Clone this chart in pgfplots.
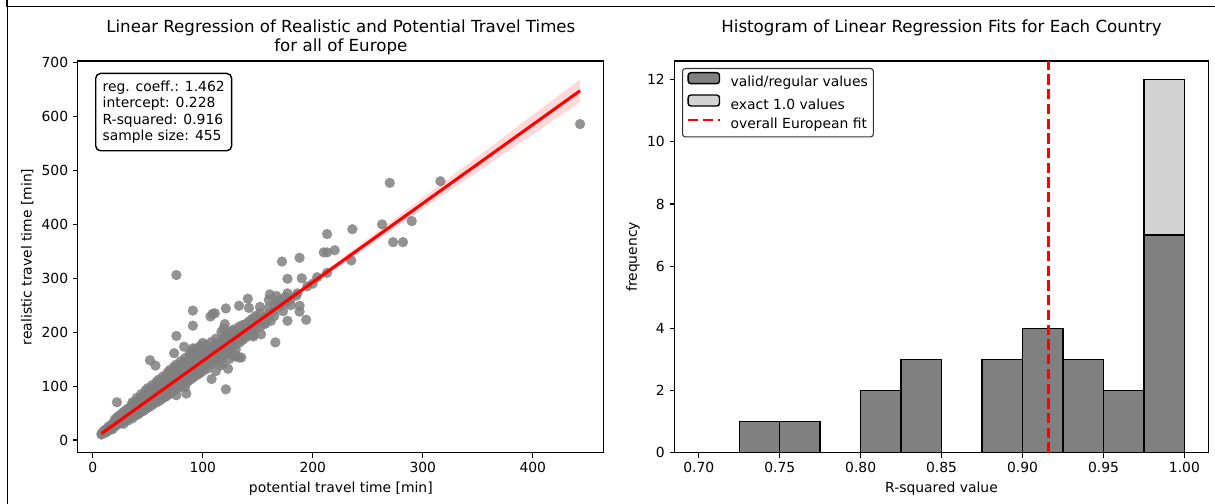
\documentclass[border=0pt]{standalone}
\usepackage{fontspec}
\setmainfont{DejaVu Sans}
\usepackage{pgfplots}
\pgfplotsset{compat=1.18}
\definecolor{scat}{RGB}{128,128,128}
\definecolor{darkbar}{RGB}{128,128,128}
\definecolor{lightbar}{RGB}{211,211,211}
\pgfplotsset{
 barleg/.style={legend image code/.code={\draw[##1] (0bp,-0.3bp) rectangle (22.6bp,7.6bp);}},
 lineleg/.style={legend image code/.code={\draw[##1] (0bp,3.7bp) -- (22.6bp,3.7bp);}},
 mpl/.style={
  scale only axis, height=282bp,
  axis line style={black, line width=0.8bp},
  tick align=outside, tick pos=left,
  major tick length=3.5bp,
  tick style={black, line width=0.8bp},
  ticklabel style={font=\fontsize{10bp}{12bp}\selectfont},
  /pgf/number format/assume math mode=true,
 }}
\begin{document}
\begin{tikzpicture}
\useasboundingbox (0,0) rectangle (874.8bp,362.88bp);
% frame
\draw[black, line width=1.2bp] (5.2bp,362.88bp) -- (5.2bp,358.2bp) -- (874.8bp,358.2bp);
\draw[black, line width=1.2bp] (5.4bp,358.2bp) -- (5.4bp,0bp);
% ---------------- left: scatter with regression ----------------
\begin{axis}[mpl, at={(56.09bp,36.94bp)}, anchor=south west, width=378.6bp,
  clip mode=individual,
  xmin=-13.5, xmax=464.5, ymin=-23.6, ymax=703,
  xtick={0,100,200,300,400}, ytick={0,100,200,300,400,500,600,700}]
\addplot[only marks, mark=*, mark size=3.6bp, color=scat,
  mark options={fill=scat, draw=scat, line width=0.1bp, opacity=0.85}] coordinates {
(8,12)(8,10)(10,13)(10,17)(12,16)(12,20)(12,14)(14,18)(14,24)(14,21)(16,22)(16,27)(16,19)(18,24)(18,30)(18,27)(18,20)(20,28)(20,33)(20,25)(20,38)(22,31)(22,36)(22,28)(22,42)(24,33)(24,40)(24,30)(24,45)(24,37)(26,36)(26,42)(26,32)(26,48)(26,39)(28,40)(28,46)(28,35)(28,52)(28,30)(30,42)(30,49)(30,38)(30,55)(30,45)(32,46)(32,52)(32,40)(32,58)(32,36)(34,48)(34,55)(34,43)(34,61)(34,51)(36,52)(36,58)(36,45)(36,65)(36,40)(36,70)(38,55)(38,61)(38,48)(38,68)(38,52)(40,57)(40,64)(40,51)(40,72)(40,46)(40,78)(42,60)(42,67)(42,54)(42,75)(42,49)(44,63)(44,70)(44,57)(44,78)(44,52)(44,85)(46,66)(46,73)(46,60)(46,82)(46,54)(48,69)(48,76)(48,62)(48,85)(48,57)(48,92)(50,72)(50,80)(50,65)(50,88)(50,60)(50,96)(52,75)(52,83)(52,68)(52,92)(52,62)(54,78)(54,86)(54,71)(54,95)(54,65)(54,102)(56,81)(56,89)(56,74)(56,98)(56,68)(58,84)(58,92)(58,76)(58,102)(58,70)(58,108)(60,87)(60,95)(60,79)(60,105)(60,72)(60,112)(62,90)(62,98)(62,82)(62,108)(62,75)(64,93)(64,101)(64,85)(64,112)(64,78)(64,118)(66,96)(66,104)(66,88)(66,115)(66,80)(68,99)(68,108)(68,91)(68,118)(68,83)(68,125)(70,102)(70,111)(70,94)(70,122)(70,86)(70,130)(72,105)(72,114)(72,96)(72,125)(72,89)(74,108)(74,117)(74,99)(74,128)(74,92)(74,136)(76,111)(76,120)(76,102)(76,132)(76,94)(76,140)(78,114)(78,123)(78,105)(78,135)(78,97)(80,117)(80,126)(80,108)(80,138)(80,100)(80,146)(82,120)(82,130)(82,110)(82,142)(82,103)(84,123)(84,133)(84,113)(84,145)(84,106)(84,152)(84,98)(86,126)(86,136)(86,116)(86,148)(86,108)(88,129)(88,139)(88,119)(88,152)(88,111)(88,160)(90,132)(90,142)(90,122)(90,155)(90,114)(90,165)(92,135)(92,145)(92,125)(92,158)(92,117)(94,138)(94,148)(94,128)(94,162)(94,120)(94,170)(96,141)(96,151)(96,131)(96,165)(96,122)(98,144)(98,154)(98,134)(98,168)(98,125)(98,175)(100,147)(100,158)(100,137)(100,172)(100,128)(100,180)(102,150)(102,161)(102,140)(102,135)(104,153)(104,164)(104,143)(104,176)(104,132)(106,156)(106,167)(106,146)(106,140)(108,159)(108,170)(108,149)(108,182)(108,142)(110,162)(110,173)(110,152)(110,145)(112,165)(112,177)(112,155)(112,188)(112,148)(112,128)(114,168)(114,152)(114,160)(114,180)(116,171)(116,182)(116,158)(116,150)(116,138)(118,174)(118,162)(118,186)(118,155)(118,142)(120,177)(120,165)(120,190)(120,158)(122,180)(122,168)(122,160)(122,195)(124,183)(124,170)(124,200)(124,162)(124,150)(126,186)(126,172)(126,165)(126,160)(128,188)(128,175)(128,205)(130,192)(130,178)(130,168)(130,155)(133,195)(133,180)(133,210)(136,200)(136,185)(136,190)(139,204)(139,190)(139,215)(142,208)(142,195)(142,220)(145,212)(145,200)(145,225)(148,216)(148,205)(148,230)(152,222)(152,210)(152,235)(156,228)(156,215)(160,235)(160,225)(160,245)(165,240)(165,250)(165,230)(170,248)(170,260)(175,255)(175,265)(180,262)(180,250)(185,268)(195,285)(200,290)
(443,586)(270,477)(316,480)(263,400)(290,406)(273,367)(282,367)(236,391)(235,333)(213,382)(210,348)(213,348)(220,352)(213,310)(204,302)(172,331)(188,338)(177,299)(190,300)(76,306)(91,240)(91,212)(76,193)(52,148)(57,138)(22,70)(121,94)(166,181)(194,223)(177,221)(188,238)(188,249)(173,239)(186,272)(177,257)(177,272)(161,270)(167,267)(162,221)(157,216)(142,245)(141,262)(152,247)(133,249)(136,213)(121,244)(107,229)(109,234)(111,235)(120,215)(119,207)(117,201)(127,201)(128,156)(133,153)(123,132)(108,113)(85,86)(76,83)(74,161)(83,173)(91,170)(135,153)(146,195)(153,196)(146,192)(131,190)(167,257)(160,260)
};
\addplot[draw=none, fill=red, fill opacity=0.15] coordinates {
(8,15.4)(50,75.5)(100,148.4)(150,222.5)(200,297.6)(250,373.2)(300,449.3)(350,526)(400,603)(443,669)
(443,627)(400,567)(350,498)(300,428.3)(250,358.2)(200,287.6)(150,216.5)(100,144.4)(50,71.1)(8,8.4)};
\addplot[red, line width=2.2bp] coordinates {(8,11.9) (443,647.9)};
\end{axis}
\node[draw=black, line width=1bp, rounded corners=3.5bp, fill=white, anchor=north west,
  align=left, inner xsep=5bp, inner ysep=5.3bp,
  font=\fontsize{10bp}{11.8bp}\selectfont] at (68.4bp,310.5bp)
  {reg. coeff.: 1.462\\intercept: 0.228\\R-squared: 0.916\\sample size: 455};
\node[anchor=base, font=\fontsize{12bp}{14bp}\selectfont] at (245.4bp,339.3bp) {Linear Regression of Realistic and Potential Travel Times};
\node[anchor=base, font=\fontsize{12bp}{14bp}\selectfont] at (245.4bp,325.6bp) {for all of Europe};
\node[anchor=base, font=\fontsize{10bp}{12bp}\selectfont] at (245.4bp,8.0bp) {potential travel time [min]};
\node[anchor=base, rotate=90, font=\fontsize{10bp}{12bp}\selectfont] at (22.7bp,177.9bp) {realistic travel time [min]};
% ---------------- right: histogram ----------------
\begin{axis}[mpl, at={(485.64bp,36.94bp)}, anchor=south west, width=384.6bp,
  xmin=0.685, xmax=1.015, ymin=0, ymax=12.6,
  xtick={0.70,0.75,0.80,0.85,0.90,0.95,1.00},
  xticklabels={0.70,0.75,0.80,0.85,0.90,0.95,1.00},
  ytick={0,2,4,6,8,10,12},
  ybar, bar width=0.025, bar shift=0pt,
  legend cell align=left,
  legend style={at={(0,1)}, anchor=north west, xshift=5.4bp, yshift=-5bp,
    draw=black!80, line width=0.8bp, rounded corners=2bp,
    font=\fontsize{10bp}{12bp}\selectfont, inner xsep=3bp, inner ysep=2.5bp,
    nodes={inner sep=1bp, text height=7.6bp, text depth=2.4bp},
    row sep=2bp,
    /tikz/every odd column/.style={column sep=6bp}},
  ]
\addplot[fill=lightbar, draw=black, line width=1bp, forget plot] coordinates {(0.9875,12)};
\addplot[fill=darkbar, draw=black, line width=1bp, barleg] coordinates {
(0.7375,1) (0.7625,1) (0.8125,2) (0.8375,3) (0.8875,3) (0.9125,4) (0.9375,3) (0.9625,2) (0.9875,7)};
\addlegendentry{valid/regular values}
\addlegendimage{fill=lightbar, draw=black, line width=1bp, barleg}
\addlegendentry{exact 1.0 values}
\addplot[sharp plot, red, line width=2bp, dash pattern=on 7.4bp off 3.2bp, lineleg]
  coordinates {(0.916,0) (0.916,12.6)};
\addlegendentry{overall European fit}
\end{axis}
\node[anchor=base, font=\fontsize{12bp}{14bp}\selectfont] at (677.9bp,339.3bp) {Histogram of Linear Regression Fits for Each Country};
\node[anchor=base, font=\fontsize{10bp}{12bp}\selectfont] at (677.9bp,8.0bp) {R-squared value};
\node[anchor=base, rotate=90, font=\fontsize{10bp}{12bp}\selectfont] at (458.6bp,177.9bp) {frequency};
\end{tikzpicture}
\end{document}
